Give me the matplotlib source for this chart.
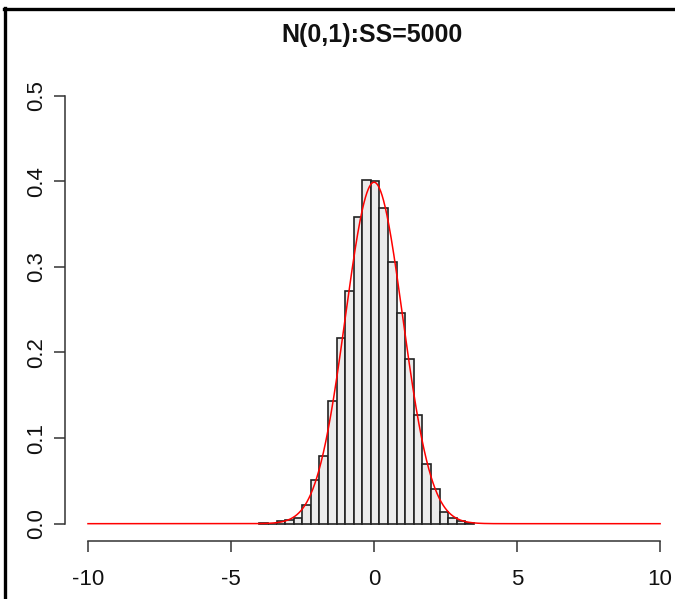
import numpy as np
import matplotlib
matplotlib.use("Agg")
import matplotlib.pyplot as plt
from matplotlib.lines import Line2D

# ---- data ----
title = "N(0,1):SS=5000"
sample_size = 5000
bin_start = -4.01
bin_width = 0.3
bin_counts = [2, 0, 4, 7, 10, 32, 77, 119, 215, 326, 408, 537, 602,
              600, 554, 458, 369, 288, 190, 105, 60, 21, 10, 4, 2]
x_ticks = [-10, -5, 0, 5, 10]
x_tick_labels = ["-10", "-5", "0", "5", "10"]
y_ticks = [0.0, 0.1, 0.2, 0.3, 0.4, 0.5]
y_tick_labels = ["0.0", "0.1", "0.2", "0.3", "0.4", "0.5"]
curve_range = (-10, 10)

edges = bin_start + bin_width * np.arange(len(bin_counts) + 1)
density = np.array(bin_counts) / (sample_size * bin_width)

W, H = 675, 599
fig = plt.figure(figsize=(W / 100, H / 100), dpi=100)
plt.rcParams['font.family'] = ['Liberation Sans', 'DejaVu Sans']

# plot region like R: xlim (-10.8, 10.8), ylim (-0.02, 0.52)
left_px, right_px = 65.1, 683.0
bottom_px, top_px = 540.8, 78.6
ax = fig.add_axes([left_px / W, (H - bottom_px) / H,
                   (right_px - left_px) / W, (bottom_px - top_px) / H])
ax.set_xlim(-10.8, 10.8)
ax.set_ylim(-0.02, 0.52)

ax.bar(edges[:-1], density, width=bin_width, align='edge',
       color='#ebebeb', edgecolor='#222222', linewidth=1.2, zorder=2)

xs = np.linspace(curve_range[0], curve_range[1], 2001)
ys = np.exp(-xs ** 2 / 2) / np.sqrt(2 * np.pi)
ax.plot(xs, ys, color='#ff0000', linewidth=1.1, zorder=3)

for s in ['top', 'right']:
    ax.spines[s].set_visible(False)
ax.spines['left'].set_bounds(0, 0.5)
ax.spines['bottom'].set_bounds(-10, 10)
for s in ['left', 'bottom']:
    ax.spines[s].set_color('#333333')
    ax.spines[s].set_linewidth(1.1)

ax.set_xticks(x_ticks)
ax.set_xticklabels(x_tick_labels)
ax.set_yticks(y_ticks)
ax.set_yticklabels(y_tick_labels, rotation=90, va='center')
ax.tick_params(axis='both', direction='out', length=8, width=1.1,
               color='#333333', labelsize=16, labelcolor='#111111')
ax.tick_params(axis='x', pad=12)
ax.tick_params(axis='y', pad=5)

fig.text(372 / W, 1 - 35 / H, title, ha='center', va='center',
         fontsize=18, fontweight='bold', color='#111111')

# screenshot frame (left and top black edges)
fig.add_artist(Line2D([5.5 / W, 5.5 / W], [0, 1 - 8 / H], color='black',
                      linewidth=2.4, transform=fig.transFigure))
fig.add_artist(Line2D([4.3 / W, 1], [1 - 9 / H, 1 - 9 / H], color='black',
                      linewidth=2.4, transform=fig.transFigure))

fig.savefig("out.png", dpi=100)
